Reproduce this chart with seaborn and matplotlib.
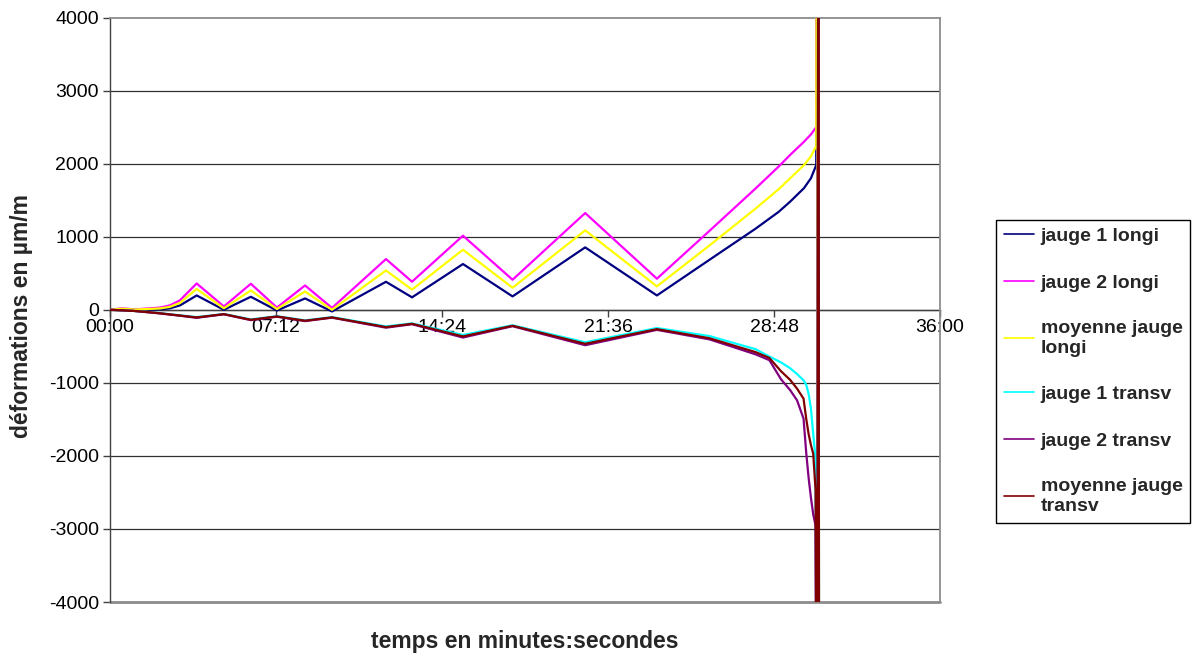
#!/usr/bin/env python
# -*- coding: utf-8 -*-
"""
Courbes de déformation des jauges (longi / transv) en fonction du temps
"""

import pandas as pd
import matplotlib
matplotlib.use("Agg")
import matplotlib.pyplot as plt
import seaborn as sns

# =============================================
# 1. Données (temps en minutes, déformations en µm/m)
# =============================================
T_LONGI = [0, 0.52, 1.08, 2.17, 2.6, 3.04, 3.76, 4.94, 6.11, 7.24, 8.46, 9.63,
           11.97, 13.10, 15.31, 17.46, 20.61, 23.72, 26.0, 28.0, 29.0, 29.5,
           30.1, 30.4, 30.63, 30.67, 30.71, 30.75]
JAUGE1_LONGI = [0, 0, 0, 5, 20, 60, 196, 0, 178, -10, 155, -23,
                383, 170, 626, 183, 854, 196, 684, 1110, 1340, 1480,
                1665, 1800, 1980, 9000, -9000, 9000]
JAUGE2_LONGI = [0, 20, 5, 30, 60, 130, 360, 45, 356, 30, 333, 25,
                694, 384, 1014, 411, 1324, 425, 1080, 1660, 1960, 2120,
                2300, 2400, 2500, 9000, -9000, 9000]
MOY_LONGI = [0, 15, 3, 18, 40, 95, 285, 20, 265, 10, 250, 0,
             538, 276, 822, 301, 1087, 320, 880, 1385, 1650, 1800,
             1980, 2100, 2240, 9000, -9000, 9000]

T_TRANSV = [0, 1.0, 2.0, 3.0, 3.76, 4.94, 6.11, 7.24, 8.46, 9.63, 11.97, 13.10,
            15.31, 17.46, 20.61, 23.72, 26.0, 28.0, 28.6, 29.1, 29.5, 29.8,
            30.08, 30.2, 30.3, 30.4, 30.5, 30.6, 30.68, 30.72, 30.76]
JAUGE1_TRANSV = [0, -15, -40, -75, -100, -58, -132, -88, -145, -100, -228, -186,
                 -345, -212, -445, -250, -360, -540, -640, -720, -800, -880,
                 -965, -1030, -1150, -1350, -1700, -2030, -9000, 9000, -9000]
JAUGE2_TRANSV = [0, -15, -45, -80, -110, -62, -142, -95, -155, -108, -245, -198,
                 -380, -225, -485, -275, -405, -610, -690, -950, -1100, -1240,
                 -1490, -1970, -2300, -2570, -2800, -2950, -9000, 9000, -9000]
MOY_TRANSV = [0, -15, -42, -78, -105, -60, -137, -92, -150, -105, -237, -192,
              -365, -219, -466, -265, -390, -580, -660, -840, -960, -1080,
              -1216, -1500, -1700, -1850, -1970, -2460, -9000, 9000, -9000]

SERIES = ["jauge 1 longi", "jauge 2 longi", "moyenne jauge\nlongi",
          "jauge 1 transv", "jauge 2 transv", "moyenne jauge\ntransv"]
COLORS = ["#000080", "#FF00FF", "#FFFF00", "#00FFFF", "#800080", "#800000"]

X_TICKS = [0, 7.2, 14.4, 21.6, 28.8, 36]
X_TICK_LABELS = ["00:00", "07:12", "14:24", "21:36", "28:48", "36:00"]
Y_TICKS = [-4000, -3000, -2000, -1000, 0, 1000, 2000, 3000, 4000]

# =============================================
# 2. Mise en forme des données
# =============================================
def build_frame():
    pieces = []
    values = [JAUGE1_LONGI, JAUGE2_LONGI, MOY_LONGI,
              JAUGE1_TRANSV, JAUGE2_TRANSV, MOY_TRANSV]
    for i, (name, vals) in enumerate(zip(SERIES, values)):
        t = T_LONGI if i < 3 else T_TRANSV
        pieces.append(pd.DataFrame({"t": t, "def": vals, "serie": name}))
    return pd.concat(pieces, ignore_index=True)

# =============================================
# 3. Graphique
# =============================================
def plot(df):
    sns.set_theme(style="white")
    plt.rcParams["font.family"] = ["Liberation Sans", "DejaVu Sans"]

    fig = plt.figure(figsize=(11.94, 6.54), dpi=100)
    ax = fig.add_axes([0.0921, 0.0795, 0.6952, 0.8937])

    # grille horizontale
    for y in Y_TICKS[1:-1]:
        ax.axhline(y, color="#303030", lw=0.9, zorder=1)

    sns.lineplot(data=df, x="t", y="def", hue="serie", hue_order=SERIES,
                 palette=dict(zip(SERIES, COLORS)), sort=False, estimator=None,
                 lw=1.6, ax=ax, zorder=3)

    ax.set_xlim(0, 36)
    ax.set_ylim(-4000, 4000)
    ax.set_xticks(X_TICKS)
    ax.set_xticklabels(X_TICK_LABELS)
    ax.set_yticks(Y_TICKS)
    ax.set_yticklabels([str(v) for v in Y_TICKS])

    # axe des x à y=0 comme dans Excel
    ax.spines["bottom"].set_position(("data", 0))
    ax.spines["bottom"].set_color("#404040")
    ax.spines["bottom"].set_linewidth(1.0)
    ax.spines["bottom"].set_zorder(2)
    ax.spines["left"].set_color("#404040")
    ax.spines["left"].set_linewidth(1.0)
    for s in ["top", "right"]:
        ax.spines[s].set_color("#8c8c8c")
        ax.spines[s].set_linewidth(1.3)
    ax.axhline(-4000, color="#8c8c8c", lw=2.0, zorder=1, clip_on=False)

    ax.tick_params(axis="both", which="major", labelsize=14, direction="out",
                   length=5, width=1, color="#404040", bottom=True, left=True,
                   labelcolor="black")
    ax.tick_params(axis="x", pad=2)
    ax.tick_params(axis="y", pad=3)

    ax.set_xlabel("temps en minutes:secondes", fontsize=16.5, fontweight="bold")
    ax.xaxis.set_label_coords(0.5, -0.048)
    ax.set_ylabel("déformations en µm/m", fontsize=16.5, fontweight="bold")
    ax.yaxis.set_label_coords(-0.093, 0.49)

    handles, labels = ax.get_legend_handles_labels()
    ax.get_legend().remove()
    for h in handles:
        h.set_linewidth(1.2)
    leg = ax.legend(handles, labels, loc="upper left",
                    bbox_to_anchor=(0.834, 0.664), bbox_transform=fig.transFigure,
                    frameon=True, fancybox=False, framealpha=1, edgecolor="black",
                    prop={"weight": "bold", "size": 14}, handlelength=1.55,
                    handletextpad=0.36, labelspacing=1.48, borderpad=0.4,
                    borderaxespad=0)
    leg.get_frame().set_linewidth(1.0)

    fig.savefig("out.png", dpi=100)
    plt.close(fig)


if __name__ == "__main__":
    plot(build_frame())
